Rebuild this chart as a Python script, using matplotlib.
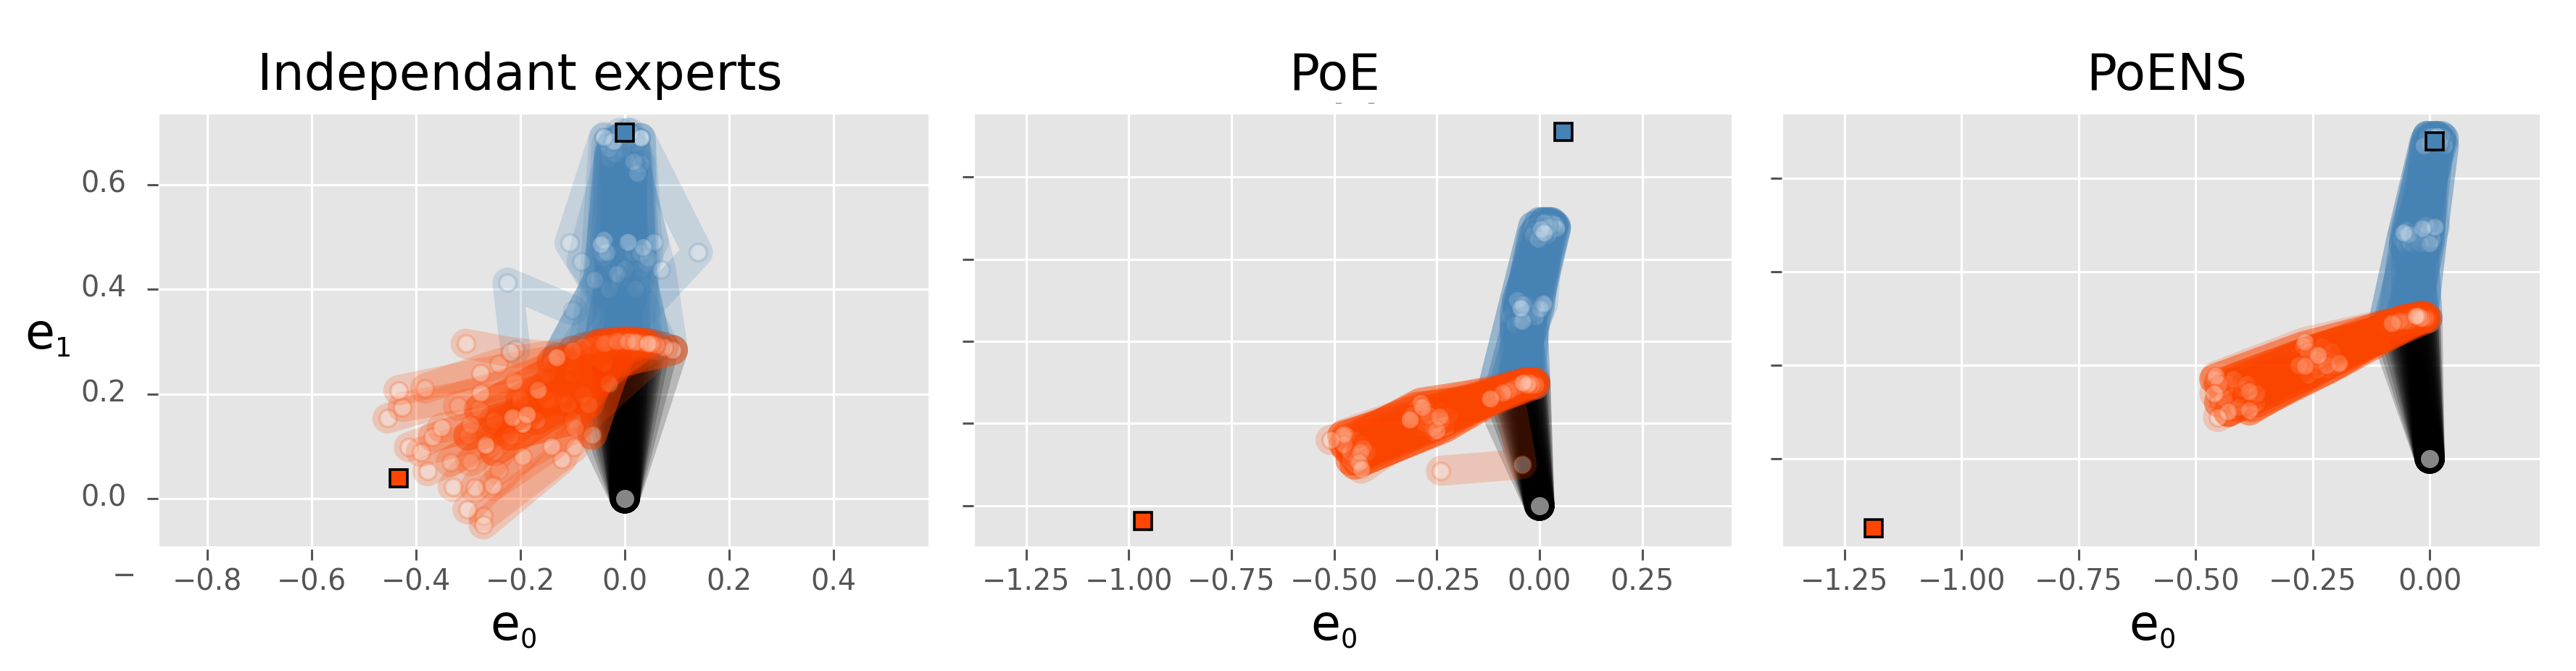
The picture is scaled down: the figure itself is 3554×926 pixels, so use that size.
import matplotlib
matplotlib.use("Agg")
import matplotlib.pyplot as plt
import matplotlib._mathtext as mt
from matplotlib.colors import to_rgba
from matplotlib.transforms import ScaledTranslation
from matplotlib.lines import Line2D

mt.SHRINK_FACTOR = 0.55

W, H = 3555, 926
BLACK, BLUE, ORANGE = "#000000", "#4682B4", "#FF4500"

titles = ["Independant experts", "PoE", "PoENS"]
xtick_sets = [[-0.8, -0.6, -0.4, -0.2, 0.0, 0.2, 0.4],
              [-1.25, -1.0, -0.75, -0.5, -0.25, 0.0, 0.25],
              [-1.25, -1.0, -0.75, -0.5, -0.25, 0.0]]
xtick_labels = [["\u22120.8", "\u22120.6", "\u22120.4", "\u22120.2", "0.0", "0.2", "0.4"],
                ["\u22121.25", "\u22121.00", "\u22120.75", "\u22120.50", "\u22120.25", "0.00", "0.25"],
                ["\u22121.25", "\u22121.00", "\u22120.75", "\u22120.50", "\u22120.25", "0.00"]]
ytick_sets = [[0.0, 0.2, 0.4, 0.6], [0.0, 0.2, 0.4, 0.6, 0.8], [0.0, 0.2, 0.4, 0.6]]
ytick_labels = ["0.0", "0.2", "0.4", "0.6"]

# ---- panel 1: independent experts ----
p1_elbow_x = [-0.13, -0.10, -0.08, -0.065, -0.05, -0.045, -0.04, -0.035, -0.03, -0.025, -0.02, -0.015, -0.01, -0.005, 0.0,
              0.0, 0.005, 0.01, 0.01, 0.015, 0.02, 0.02, 0.025, 0.03, 0.035, 0.04, 0.045, 0.05, 0.06, 0.075, 0.092]
p1_elbow_y = [0.27, 0.283, 0.289, 0.293, 0.296, 0.296, 0.297, 0.298, 0.298, 0.298, 0.299, 0.30, 0.30, 0.30, 0.30,
              0.30, 0.30, 0.30, 0.30, 0.30, 0.299, 0.299, 0.299, 0.298, 0.298, 0.297, 0.296, 0.296, 0.294, 0.29, 0.284]
p1_blue_mid_x = [-0.05, -0.03, 0.0, 0.02, 0.035, -0.02, 0.01, -0.04, 0.03, -0.01, 0.015, -0.03, 0.04, 0.0, -0.045, 0.02,
                 -0.015, 0.03, -0.058, 0.045, -0.035, -0.083, 0.069, 0.055, 0.035, 0.006, -0.04, -0.046, 0.14, -0.106]
p1_blue_mid_y = [0.42, 0.44, 0.40, 0.43, 0.41, 0.47, 0.45, 0.46, 0.44, 0.42, 0.47, 0.40, 0.45, 0.44, 0.47, 0.40,
                 0.43, 0.47, 0.418, 0.46, 0.471, 0.454, 0.438, 0.491, 0.481, 0.491, 0.495, 0.487, 0.471, 0.489]
p1_blue_end_x = [-0.03, -0.02, 0.0, 0.01, 0.02, -0.01, 0.015, -0.025, 0.025, 0.0, 0.01, -0.03, 0.02, -0.005, -0.035, 0.005,
                 -0.02, 0.03, -0.04, 0.03, -0.03, -0.02, 0.023, 0.017, 0.03, 0.01, -0.01, -0.023, 0.03, -0.04]
p1_blue_end_y = [0.66, 0.64, 0.68, 0.65, 0.67, 0.69, 0.63, 0.68, 0.66, 0.65, 0.69, 0.65, 0.68, 0.67, 0.68, 0.70,
                 0.66, 0.64, 0.69, 0.69, 0.67, 0.684, 0.622, 0.645, 0.69, 0.70, 0.70, 0.684, 0.69, 0.692]
p1_blue_out_x = [-0.21, -0.225, -0.10]
p1_blue_out_y = [0.285, 0.413, 0.36]
p1_orange_mid_x = [-0.12, -0.14, -0.10, -0.15, -0.11, -0.10, -0.08, -0.07, -0.03, -0.04, -0.06, -0.096, -0.098, -0.121,
                   -0.196, -0.14, -0.187, -0.196, -0.267, -0.215, -0.267, -0.296, -0.196, -0.215, -0.187, -0.167,
                   -0.213, -0.276, -0.242, -0.276, -0.22]
p1_orange_mid_y = [0.20, 0.19, 0.15, 0.24, 0.18, 0.24, 0.20, 0.18, 0.22, 0.26, 0.27, 0.135, 0.098, 0.075,
                   0.08, 0.10, 0.161, 0.143, 0.102, 0.155, 0.102, 0.141, 0.143, 0.155, 0.161, 0.208,
                   0.225, 0.202, 0.258, 0.24, 0.28]
p1_orange_end_x = [-0.30, -0.25, -0.22, -0.28, -0.25, -0.20, -0.17, -0.15, -0.063, -0.098, -0.14, -0.242, -0.271, -0.271,
                   -0.302, -0.253, -0.288, -0.296, -0.33, -0.334, -0.378, -0.414, -0.391, -0.368, -0.351, -0.32,
                   -0.455, -0.426, -0.383, -0.434, -0.305]
p1_orange_end_y = [0.12, 0.15, 0.12, 0.17, 0.09, 0.19, 0.15, 0.19, 0.122, 0.258, 0.262, 0.054, -0.034, -0.05,
                   -0.021, 0.024, 0.02, 0.071, 0.022, 0.069, 0.052, 0.098, 0.089, 0.118, 0.135, 0.177,
                   0.153, 0.175, 0.21, 0.207, 0.296]

# ---- panel 2: PoE ----
p2_elbow_x = [-0.12, -0.10, -0.09, -0.08, -0.075, -0.07, -0.065, -0.06, -0.055, -0.05, -0.05, -0.045, -0.04, -0.04, -0.035,
              -0.03, -0.03, -0.025, -0.02, -0.02, -0.015, -0.01, -0.01, -0.025]
p2_elbow_y = [0.26, 0.27, 0.275, 0.28, 0.28, 0.285, 0.285, 0.288, 0.29, 0.29, 0.295, 0.295, 0.295, 0.30, 0.30,
              0.295, 0.30, 0.30, 0.30, 0.295, 0.30, 0.295, 0.30, 0.30]
p2_blue_mid_x = [-0.07, -0.06, -0.05, -0.04, -0.03, -0.02, -0.05, -0.04, -0.03, -0.025, -0.02, -0.01, -0.06, -0.05, -0.04,
                 -0.03, -0.02, -0.01, 0.0, -0.055, -0.04, 0.009, -0.043, -0.045]
p2_blue_mid_y = [0.46, 0.47, 0.48, 0.47, 0.46, 0.45, 0.49, 0.50, 0.48, 0.47, 0.50, 0.48, 0.44, 0.45, 0.46,
                 0.49, 0.47, 0.46, 0.48, 0.50, 0.49, 0.492, 0.45, 0.481]
p2_blue_end_x = [-0.015, 0.0, 0.01, 0.02, 0.03, 0.035, -0.01, 0.005, 0.015, 0.025, 0.03, 0.04, -0.016, 0.0, 0.02,
                 0.03, 0.035, 0.04, 0.02, 0.01, -0.004, 0.022, 0.003, 0.01]
p2_blue_end_y = [0.68, 0.69, 0.69, 0.69, 0.685, 0.68, 0.67, 0.675, 0.68, 0.69, 0.675, 0.68, 0.66, 0.665, 0.67,
                 0.69, 0.685, 0.675, 0.66, 0.69, 0.648, 0.679, 0.674, 0.665]
p2_orange_mid_x = [-0.30, -0.28, -0.26, -0.24, -0.30, -0.27, -0.25, -0.23, -0.29, -0.26, -0.24, -0.28, -0.25, -0.22, -0.31,
                   -0.28, -0.26, -0.24, -0.29, -0.27, -0.043, -0.25, -0.244, -0.286, -0.315]
p2_orange_mid_y = [0.24, 0.22, 0.21, 0.20, 0.21, 0.23, 0.22, 0.19, 0.19, 0.18, 0.23, 0.24, 0.20, 0.22, 0.22,
                   0.20, 0.19, 0.21, 0.25, 0.22, 0.101, 0.184, 0.216, 0.24, 0.21]
p2_orange_end_x = [-0.47, -0.46, -0.45, -0.44, -0.47, -0.45, -0.44, -0.43, -0.46, -0.45, -0.43, -0.47, -0.44, -0.42, -0.48,
                   -0.46, -0.445, -0.43, -0.477, -0.435, -0.24, -0.44, -0.434, -0.477, -0.509]
p2_orange_end_y = [0.16, 0.14, 0.13, 0.12, 0.14, 0.16, 0.14, 0.11, 0.11, 0.10, 0.15, 0.17, 0.12, 0.13, 0.17,
                   0.13, 0.11, 0.14, 0.15, 0.13, 0.085, 0.106, 0.09, 0.174, 0.16]

# ---- panel 3: PoENS ----
p3_elbow_x = [-0.10, -0.09, -0.08, -0.07, -0.065, -0.06, -0.055, -0.05, -0.045, -0.04, -0.04, -0.035, -0.03, -0.03, -0.025,
              -0.025, -0.02, -0.02, -0.015, -0.015, -0.01, -0.01, -0.005, -0.015]
p3_elbow_y = [0.285, 0.285, 0.29, 0.29, 0.295, 0.295, 0.295, 0.30, 0.295, 0.30, 0.30, 0.30, 0.30, 0.305, 0.30,
              0.305, 0.305, 0.30, 0.305, 0.30, 0.305, 0.30, 0.30, 0.30]
p3_blue_mid_x = [-0.06, -0.05, -0.04, -0.03, -0.02, -0.01, -0.055, -0.045, -0.035, -0.025, -0.015, -0.005, 0.0, 0.005, -0.05,
                 -0.04, -0.03, -0.02, -0.01, 0.0, -0.045, 0.011, -0.015, -0.056]
p3_blue_mid_y = [0.47, 0.48, 0.49, 0.47, 0.48, 0.49, 0.46, 0.47, 0.46, 0.49, 0.47, 0.46, 0.49, 0.47, 0.49,
                 0.46, 0.48, 0.46, 0.50, 0.46, 0.48, 0.496, 0.492, 0.483]
p3_blue_end_x = [-0.01, -0.005, 0.0, 0.005, 0.01, 0.015, 0.02, 0.025, 0.03, -0.01, 0.0, 0.01, 0.02, 0.03, -0.005,
                 0.005, 0.015, 0.025, 0.0, 0.01, 0.02, -0.012, 0.005, 0.015]
p3_blue_end_y = [0.68, 0.69, 0.685, 0.69, 0.68, 0.69, 0.685, 0.68, 0.685, 0.67, 0.675, 0.67, 0.675, 0.67, 0.69,
                 0.68, 0.69, 0.69, 0.675, 0.685, 0.675, 0.67, 0.69, 0.69]
p3_orange_mid_x = [-0.28, -0.26, -0.24, -0.22, -0.20, -0.27, -0.25, -0.23, -0.21, -0.26, -0.24, -0.22, -0.25, -0.23, -0.27,
                   -0.21, -0.24, -0.26, -0.28, -0.22, -0.267, -0.194, -0.267, -0.239]
p3_orange_mid_y = [0.22, 0.21, 0.20, 0.19, 0.20, 0.19, 0.23, 0.22, 0.21, 0.18, 0.19, 0.22, 0.20, 0.24, 0.24,
                   0.23, 0.21, 0.23, 0.20, 0.20, 0.249, 0.205, 0.199, 0.222]
p3_orange_end_x = [-0.44, -0.42, -0.40, -0.38, -0.37, -0.45, -0.43, -0.41, -0.39, -0.43, -0.41, -0.40, -0.44, -0.42, -0.46,
                   -0.39, -0.37, -0.45, -0.43, -0.385, -0.457, -0.385, -0.452, -0.46]
p3_orange_end_y = [0.15, 0.13, 0.12, 0.11, 0.12, 0.12, 0.16, 0.15, 0.14, 0.10, 0.11, 0.15, 0.13, 0.17, 0.17,
                   0.16, 0.14, 0.16, 0.10, 0.103, 0.176, 0.144, 0.089, 0.139]

# end-effector targets: blue, orange per panel
target_blue_x = [0.0, 0.058, 0.010]
target_blue_y = [0.70, 0.910, 0.679]
target_orange_x = [-0.433, -0.965, -1.188]
target_orange_y = [0.0386, -0.0375, -0.149]

panels = [
    dict(ex=p1_elbow_x, ey=p1_elbow_y, bmx=p1_blue_mid_x, bmy=p1_blue_mid_y, bex=p1_blue_end_x, bey=p1_blue_end_y,
         omx=p1_orange_mid_x, omy=p1_orange_mid_y, oex=p1_orange_end_x, oey=p1_orange_end_y, bcore=7, ocore=11),
    dict(ex=p2_elbow_x, ey=p2_elbow_y, bmx=p2_blue_mid_x, bmy=p2_blue_mid_y, bex=p2_blue_end_x, bey=p2_blue_end_y,
         omx=p2_orange_mid_x, omy=p2_orange_mid_y, oex=p2_orange_end_x, oey=p2_orange_end_y, bcore=20, ocore=20),
    dict(ex=p3_elbow_x, ey=p3_elbow_y, bmx=p3_blue_mid_x, bmy=p3_blue_mid_y, bex=p3_blue_end_x, bey=p3_blue_end_y,
         omx=p3_orange_mid_x, omy=p3_orange_mid_y, oex=p3_orange_end_x, oey=p3_orange_end_y, bcore=20, ocore=20),
]

# layout in reference pixels
boxes = [(220, 1281), (1345, 2389), (2460, 3504)]
top, bottom = 158, 754
xlims = [(-0.892, 0.582), (-1.375, 0.468), (-1.381, 0.235)]
ylims = [(-0.092, 0.735), (-0.099, 0.952), (-0.1876, 0.736)]
title_cx = [717, 1841, 2989]
label_cx = [708, 1840, 2969]
title_base, label_base = 124, 883

plt.rcParams["font.family"] = "DejaVu Sans"
fig = plt.figure(figsize=(W / 100, H / 100), dpi=100, facecolor="white")
LW = 30
MS = 17


def chain(ax, xs, ys, col, nodes=True):
    ax.plot(xs, ys, "-", color=to_rgba(col, 0.2), lw=LW, solid_capstyle="round", solid_joinstyle="round", zorder=3)
    if nodes:
        ax.plot(xs, ys, "o", mfc=to_rgba("white", 0.3), mec=to_rgba(col, 0.2), mew=2.6, ms=MS, zorder=3)


def bundle(ax, p, mx, my, ex_k, ey_k, col, stride, shift, core):
    ex, ey = p["ex"], p["ey"]
    n = len(ex)
    for rep in range(3):
        # the first passes thicken the dense core, as in the many-sample original
        for i in range(core if rep < 2 else len(p[mx])):
            j = (i * stride + shift) % n
            chain(ax, [ex[j], p[mx][i], p[ex_k][i]], [ey[j], p[my][i], p[ey_k][i]], col, nodes=rep == 2)


for k, (box, p) in enumerate(zip(boxes, panels)):
    ax = fig.add_axes([box[0] / W, 1 - bottom / H, (box[1] - box[0]) / W, (bottom - top) / H])
    ax.set_facecolor("#E5E5E5")
    ax.set_xlim(*xlims[k])
    ax.set_ylim(*ylims[k])
    ax.grid(True, color="white", lw=2.3, zorder=1)
    ax.set_axisbelow(True)
    for s in ax.spines.values():
        s.set_visible(False)
    ax.spines["bottom"].set_position(("outward", 3))
    ax.spines["left"].set_position(("outward", 1.5))
    ax.set_xticks(xtick_sets[k])
    ax.set_xticklabels(xtick_labels[k])
    ax.set_yticks(ytick_sets[k])
    if k == 0:
        ax.set_yticklabels(ytick_labels)
    else:
        ax.set_yticklabels([])
    ax.tick_params(axis="both", colors="#555555", length=10.5, width=2.2, labelsize=28.5)
    ax.tick_params(axis="x", pad=8)
    ax.tick_params(axis="y", pad=21)
    off = ScaledTranslation(0, 5 / 100, fig.dpi_scale_trans)
    for lab in ax.get_yticklabels():
        lab.set_transform(lab.get_transform() + off)

    for i in range(len(p["ex"])):
        chain(ax, [0.0, p["ex"][i]], [0.0, p["ey"][i]], BLACK, nodes=False)
    ax.plot([0.0], [0.0], "o", mfc=to_rgba("white", 0.53), mec="none", ms=MS + 1, zorder=3)

    if k == 0:
        chain(ax, p1_blue_out_x, p1_blue_out_y, BLUE)
    bundle(ax, p, "bmx", "bmy", "bex", "bey", BLUE, 7, 0, p["bcore"])
    bundle(ax, p, "omx", "omy", "oex", "oey", ORANGE, 11 if k else 5, 0 if k else 5, p["ocore"])

    ax.plot([target_blue_x[k]], [target_blue_y[k]], "s", mfc=BLUE, mec="black", mew=2.6, ms=17, zorder=5)
    ax.plot([target_orange_x[k]], [target_orange_y[k]], "s", mfc=ORANGE, mec="black", mew=2.6, ms=17, zorder=5)

    ax.set_title(titles[k], fontsize=50, color="black", loc="center", va="baseline",
                 x=(title_cx[k] - box[0]) / (box[1] - box[0]), y=(bottom - title_base) / (bottom - top), pad=0)
    ax.set_xlabel(r"$\mathregular{e_0}$", fontsize=48, color="black", va="baseline", ha="center")
    ax.xaxis.set_label_coords(label_cx[k] / W, 1 - label_base / H, transform=fig.transFigure)
    if k == 0:
        ax.set_ylabel(r"$\mathregular{e_1}$", fontsize=48, color="black", rotation=0, va="baseline", ha="center")
        ax.yaxis.set_label_coords(66 / W, 1 - 482 / H, transform=fig.transFigure)

# stray remnants of clipped tick labels in the reference
fig.text(171 / W, 1 - 795 / H, "\u2212", fontsize=28.5, color="#555555", ha="center", va="center")
for x0 in (1846, 1891):
    fig.add_artist(Line2D([(x0 - 3) / W, (x0 + 4) / W], [1 - 141.5 / H] * 2, color="#888888", lw=0.9, transform=fig.transFigure))

fig.savefig("out.png", dpi=100, facecolor="white")
